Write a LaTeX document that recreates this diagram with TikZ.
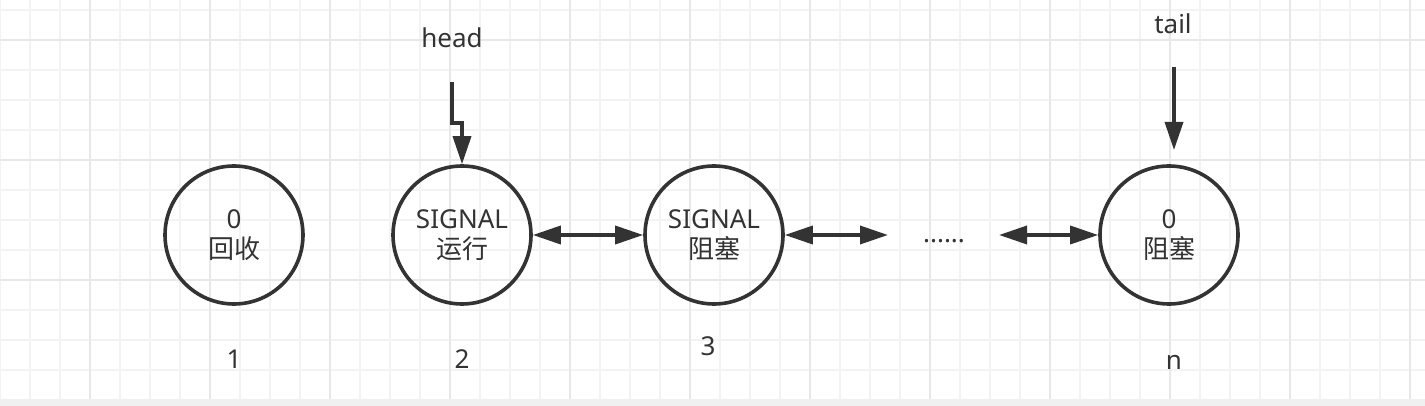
\documentclass[tikz,border=0pt]{standalone}
\usepackage{fontspec}
\setmainfont{Noto Sans}
\newfontfamily\cjk{Noto Sans CJK SC}
\usetikzlibrary{arrows.meta}
\definecolor{ink}{HTML}{333333}
\definecolor{gminor}{HTML}{F3F3F3}
\definecolor{gmajor}{HTML}{E8E8E8}
\definecolor{band}{HTML}{F0F0F0}
\begin{document}
\begin{tikzpicture}[x=1pt,y=-1pt,
  state/.style={circle,draw=ink,line width=3.6pt,minimum size=138pt,inner sep=0pt,align=center,text=ink,font=\fontsize{26}{30}\selectfont},
  lbl/.style={text=ink,font=\fontsize{26}{30}\selectfont,inner sep=0pt,anchor=base},
  conn/.style={draw=ink,line width=3.5pt},
  both/.style={conn,{Triangle[length=28pt,width=18pt]}-{Triangle[length=28pt,width=18pt]}},
  one/.style={conn,-{Triangle[length=28pt,width=18pt]}},
  gmin/.style={draw=gminor,line width=2pt},
  gmaj/.style={draw=gmajor,line width=2pt}
]
\useasboundingbox (0,0) rectangle (1425,406);
\fill[white] (0,0) rectangle (1425,406);
\foreach \x in {0,30,...,1420} \draw[gmin] (\x,0) -- (\x,406);
\foreach \y in {10,40,...,400} \draw[gmin] (0,\y) -- (1425,\y);
\foreach \x in {90,210,...,1420} \draw[gmaj] (\x,0) -- (\x,406);
\foreach \y in {40,160,280,400} \draw[gmaj] (0,\y) -- (1425,\y);
\fill[band] (0,399) rectangle (1425,406);

\node[state] (n1) at (234,235) {0\\{\cjk 回收}};
\node[state] (n2) at (462,235) {SIGNAL\\{\cjk 运行}};
\node[state] (n3) at (714,235) {SIGNAL\\{\cjk 阻塞}};
\node[state] (n4) at (1169,235) {0\\{\cjk 阻塞}};

\node[lbl] (dots) at (944,243) {......};
\node[lbl] (l1) at (234,368) {1};
\node[lbl] (l2) at (462,368) {2};
\node[lbl] (l3) at (708,355) {3};
\node[lbl] (ln) at (1174,369) {n};
\node[lbl] (head) at (452,48) {head};
\node[lbl] (tail) at (1173,34) {tail};

\coordinate (h0) at (452,82);
\coordinate (t0) at (1174,67);
\coordinate (t1) at (1174,150);
\coordinate (a2) at (888,235);
\coordinate (a3) at (999,235);

\draw[one,miter limit=10] (h0) -- ++(0,41) -| (n2.north);
\draw[one] (t0) -- (t1);
\draw[both] (n2.east) -- (n3.west);
\draw[both] (n3.east) -- (a2);
\draw[both] (a3) -- (n4.west);
\end{tikzpicture}
\end{document}
